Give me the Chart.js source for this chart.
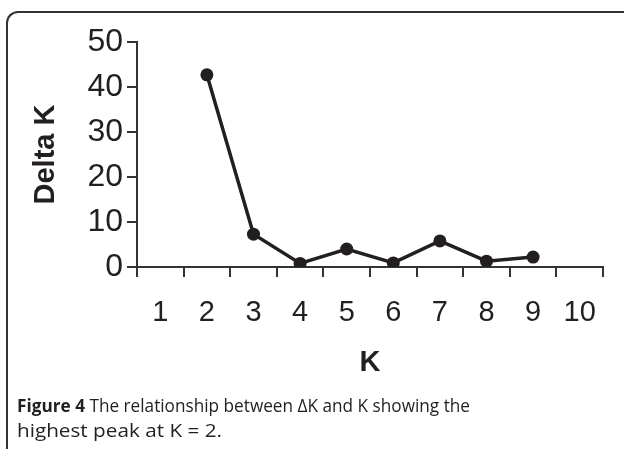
<!DOCTYPE html>
<html>
<head>
<meta charset="utf-8">
<script src="https://cdn.jsdelivr.net/npm/chart.js@4.4.1/dist/chart.umd.min.js"></script>
<style>
  html, body { margin: 0; padding: 0; background: #fff; }
  body { width: 624px; height: 449px; position: relative; overflow: hidden; }
  #frame { position: absolute; left: 6px; top: 11px; width: 700px; height: 600px;
           border-top: 2px solid #333; border-left: 2px solid #333; border-top-left-radius: 12px; box-sizing: border-box; }
  #wrap { position: absolute; left: 0; top: 0; width: 624px; height: 449px; }
  .cap { position: absolute; left: 17px; white-space: nowrap; font-family: "Open Sans", sans-serif;
         font-size: 18px; color: #231f20; transform-origin: 0 0; line-height: 1; }
  .cap b { font-weight: 700; }
</style>
</head>
<body>
<div id="frame"></div>
<div id="wrap"><canvas id="c" width="624" height="449"></canvas></div>
<div class="cap" id="cap1"><b>Figure 4</b> The relationship between ΔK and K showing the</div>
<div class="cap" id="cap2">highest peak at K = 2.</div>
<script>
const categories = ["1", "2", "3", "4", "5", "6", "7", "8", "9", "10"];
const deltaK = [null, 42.7, 7.3, 0.8, 4.0, 0.9, 5.8, 1.3, 2.2, null];
const yTicks = [0, 10, 20, 30, 40, 50];
const xTitle = "K";
const yTitle = "Delta K";

const ink = '#231f20';
const axisCol = '#333333';
const fam = '"Liberation Sans", Arial, Helvetica, sans-serif';

new Chart(document.getElementById('c'), {
  type: 'line',
  data: {
    labels: categories,
    datasets: [{
      data: deltaK,
      borderColor: ink,
      backgroundColor: ink,
      borderWidth: 3.5,
      pointRadius: 6.5,
      pointBackgroundColor: ink,
      pointBorderWidth: 0,
      tension: 0,
      spanGaps: false
    }]
  },
  options: {
    responsive: false,
    animation: false,
    events: [],
    layout: { padding: { left: 29, top: 42, right: 21, bottom: 69 } },
    plugins: { legend: { display: false }, tooltip: { enabled: false } },
    scales: {
      x: {
        type: 'category',
        offset: true,
        grid: { offset: true, drawOnChartArea: false, drawTicks: true, tickLength: 10, color: axisCol, lineWidth: 2 },
        border: { display: true, color: axisCol, width: 2 },
        ticks: { color: ink, font: { family: fam, size: 29 }, padding: 19, maxRotation: 0, autoSkip: false },
        title: { display: true, text: xTitle, color: ink, font: { family: fam, size: 29, weight: 'bold' }, padding: 0 },
        afterFit: s => { s.height = 113; }
      },
      y: {
        min: 0, max: 50,
        afterBuildTicks: s => { s.ticks = yTicks.map(v => ({ value: v })); },
        grid: { drawOnChartArea: false, drawTicks: true, tickLength: 10, color: axisCol, lineWidth: 2 },
        border: { display: true, color: axisCol, width: 2 },
        ticks: { color: ink, font: { family: fam, size: 32 }, padding: 4 },
        title: { display: true, text: yTitle, color: ink, font: { family: fam, size: 29, weight: 'bold' }, padding: 0 },
        afterFit: s => { s.width = 108; }
      }
    }
  }
});

function fit(id, top, width) {
  const el = document.getElementById(id);
  el.style.top = top + 'px';
  const w = el.getBoundingClientRect().width;
  el.style.transform = 'scaleX(' + (width / w) + ')';
}
fit('cap1', 396, 453);
fit('cap2', 421, 205);
</script>
</body>
</html>
